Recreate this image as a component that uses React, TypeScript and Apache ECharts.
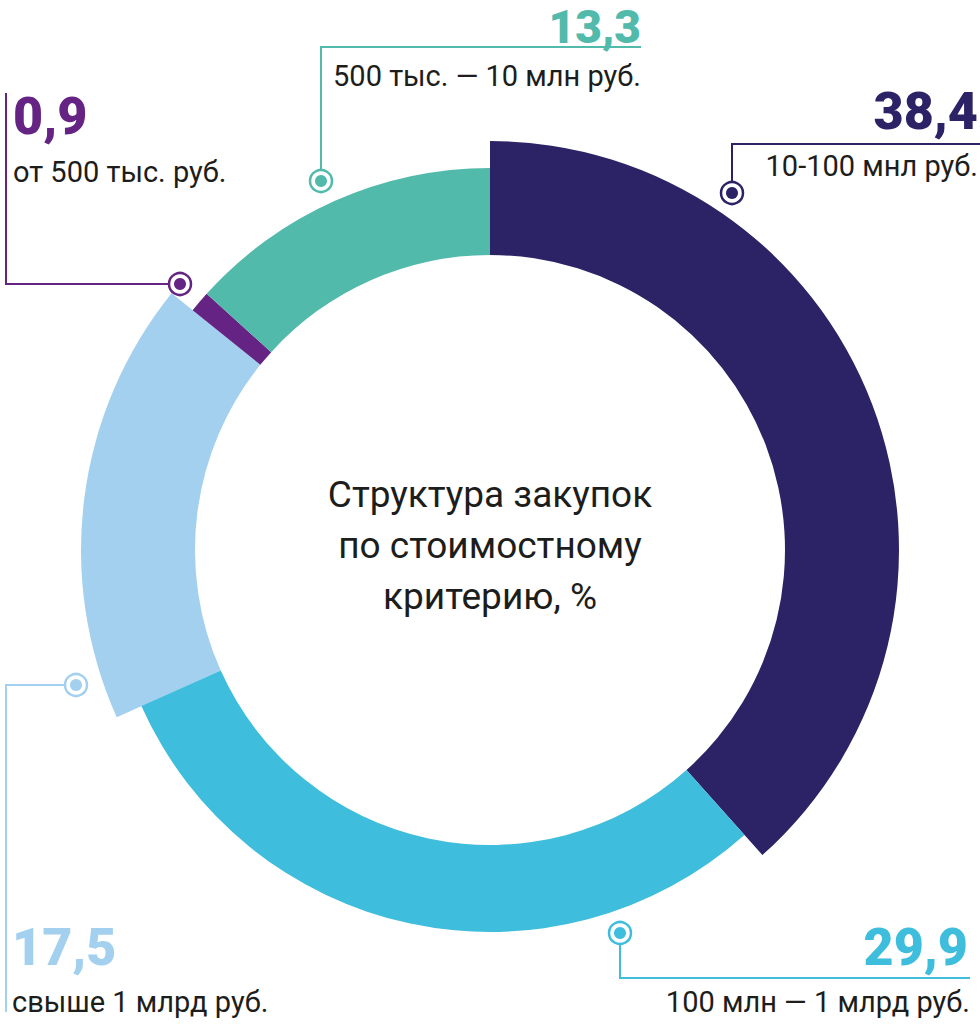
import React, { useEffect, useRef } from "react";
import * as echarts from "echarts";

const categories = [
  "10-100 мнл руб.",
  "100 млн — 1 млрд руб.",
  "свыше 1 млрд руб.",
  "от 500 тыс. руб.",
  "500 тыс. — 10 млн руб.",
];
const values = [38.4, 29.9, 17.5, 0.9, 13.3];
const colors = ["#2B2366", "#3FBDDC", "#A4D0F0", "#652483", "#52BAAB"];
const wideSlice = [true, false, true, false, false];
const centerTitle = "Структура закупок\nпо стоимостному\nкритерию, %";

const fmt = (v: number) => v.toFixed(1).replace(".", ",");

const FONT = "Roboto, 'Noto Sans', sans-serif";
const TXT = "#1d1d1b";

type Callout = {
  idx: number;
  line: number[][];
  marker: number[];
  numX: number;
  numY: number;
  numSize: number;
  labX: number;
  labY: number;
  align: "left" | "right";
};

const callouts: Callout[] = [
  { idx: 0, line: [[732, 193], [732, 144], [980, 144]], marker: [732, 193], numX: 978, numY: 111, numSize: 52, labX: 978, labY: 166, align: "right" },
  { idx: 1, line: [[620, 933], [620, 978], [970, 978]], marker: [620, 933], numX: 968, numY: 947, numSize: 52, labX: 970, labY: 1002, align: "right" },
  { idx: 2, line: [[76, 685], [6, 685], [6, 1012]], marker: [76, 685], numX: 12, numY: 947, numSize: 52, labX: 12, labY: 1002, align: "left" },
  { idx: 3, line: [[6, 93], [6, 284], [180, 284]], marker: [180, 284], numX: 13, numY: 116, numSize: 52, labX: 13, labY: 172, align: "left" },
  { idx: 4, line: [[321, 181], [321, 47], [641, 47]], marker: [321, 181], numX: 641, numY: 27, numSize: 46, labX: 641, labY: 76, align: "right" },
];

export default function App() {
  const ref = useRef<HTMLDivElement>(null);
  useEffect(() => {
    document.body.style.margin = "0";
    const chart = echarts.init(ref.current!, undefined, { renderer: "svg" });

    const mk = (wide: boolean) =>
      values.map((v, i) => ({
        name: categories[i],
        value: v,
        itemStyle: { color: wideSlice[i] === wide ? colors[i] : "rgba(0,0,0,0)" },
      }));

    const graphics: any[] = [];
    callouts.forEach((c) => {
      const col = colors[c.idx];
      graphics.push({
        type: "polyline",
        shape: { points: c.line },
        style: { stroke: col, lineWidth: 2, fill: null },
        z: 10,
      });
      graphics.push({
        type: "circle",
        shape: { cx: c.marker[0], cy: c.marker[1], r: 11 },
        style: { stroke: col, lineWidth: 2.5, fill: "#fff" },
        z: 11,
      });
      graphics.push({
        type: "circle",
        shape: { cx: c.marker[0], cy: c.marker[1], r: 6 },
        style: { fill: col },
        z: 12,
      });
      graphics.push({
        type: "text",
        x: c.numX,
        y: c.numY,
        style: {
          text: fmt(values[c.idx]),
          fill: col,
          fontFamily: FONT,
          fontWeight: 900,
          fontSize: c.numSize,
          align: c.align,
          verticalAlign: "middle",
        },
        z: 12,
      });
      graphics.push({
        type: "text",
        x: c.labX,
        y: c.labY,
        style: {
          text: categories[c.idx],
          fill: TXT,
          fontFamily: FONT,
          fontWeight: 400,
          fontSize: 29,
          align: c.align,
          verticalAlign: "middle",
        },
        z: 12,
      });
    });
    graphics.push({
      type: "text",
      x: 490,
      y: 545,
      style: {
        text: centerTitle,
        fill: TXT,
        fontFamily: FONT,
        fontWeight: 400,
        fontSize: 37,
        lineHeight: 51,
        align: "center",
        verticalAlign: "middle",
      },
      z: 12,
    });

    chart.setOption({
      animation: false,
      backgroundColor: "#fff",
      graphic: graphics,
      series: [
        {
          type: "pie",
          silent: true,
          center: [490, 550],
          radius: [295, 409],
          startAngle: 90,
          clockwise: true,
          label: { show: false },
          labelLine: { show: false },
          itemStyle: { borderWidth: 0 },
          data: mk(true),
        },
        {
          type: "pie",
          silent: true,
          center: [490, 550],
          radius: [295, 382],
          startAngle: 90,
          clockwise: true,
          label: { show: false },
          labelLine: { show: false },
          itemStyle: { borderWidth: 0 },
          data: mk(false),
        },
      ],
    });
    return () => chart.dispose();
  }, []);
  return <div ref={ref} style={{ width: 980, height: 1029 }} />;
}
